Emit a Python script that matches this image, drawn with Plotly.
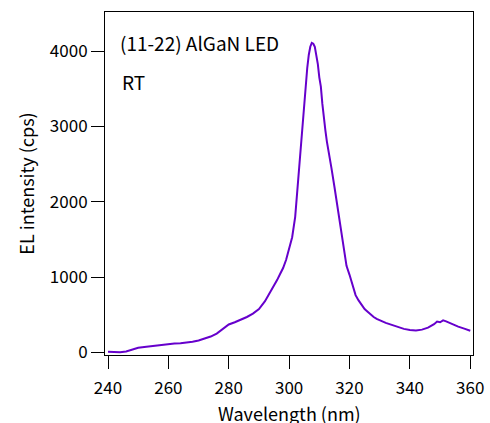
import plotly.graph_objects as go

# Wavelength (nm) and EL intensity (cps)
wavelength = [240, 242, 244, 246, 248, 250, 252, 254, 256, 258, 260, 262, 264, 266, 268,
              270, 272, 274, 276, 278, 280, 282, 284, 286, 288, 290, 292, 293, 294, 295,
              296, 297, 298, 299, 300, 301, 302, 303, 303.5, 304, 304.5, 305, 305.5, 306,
              306.5, 307, 307.5, 308, 308.5, 309, 309.5, 310, 310.5, 311, 311.5, 312, 312.5,
              313, 314, 315, 316, 317, 318, 319, 320, 321, 322, 323, 324, 325, 326, 327, 328,
              329, 330, 332, 334, 336, 338, 340, 342, 344, 346, 348, 349, 350, 351, 352, 353,
              354, 356, 358, 360]
intensity = [8, 4, 2, 12, 38, 60, 72, 82, 95, 102, 115, 118, 122, 128, 140,
             158, 180, 210, 250, 315, 370, 400, 430, 470, 515, 575, 680, 750, 820, 880,
             960, 1040, 1120, 1230, 1370, 1530, 1800, 2300, 2600, 2780, 3050, 3300, 3520, 3780,
             3950, 4060, 4110, 4100, 4060, 3950, 3830, 3650, 3530, 3300, 3100, 2950, 2800,
             2700, 2450, 2200, 1950, 1700, 1400, 1150, 1030, 900, 760, 690, 630, 575, 540, 500, 470,
             445, 425, 392, 365, 335, 312, 298, 292, 302, 328, 375, 410, 400, 425, 412, 392,
             372, 342, 315, 288]

x_ticks = [240, 260, 280, 300, 320, 340, 360]
y_ticks = [0, 1000, 2000, 3000, 4000]

FONT = "Noto Sans CJK JP, Noto Sans, sans-serif"

fig = go.Figure()
fig.add_trace(go.Scatter(x=wavelength, y=intensity, mode="lines",
                         line=dict(color="#6600cc", width=2), showlegend=False))

axis_common = dict(showline=True, mirror=True, linecolor="black", linewidth=1,
                   showgrid=False, zeroline=False, ticks="outside", ticklen=13,
                   tickwidth=1, tickcolor="black", automargin=False,
                   tickfont=dict(family=FONT, size=17, color="black"))

fig.update_xaxes(range=[239.0, 360.9], tickvals=x_ticks, ticklabelstandoff=5, **axis_common)
fig.update_yaxes(range=[-35, 4521], tickvals=y_ticks, **axis_common)

# axis titles
fig.add_annotation(x=0.50, y=-0.169, xref="paper", yref="paper", xanchor="center", yanchor="middle",
                   text="Wavelength (nm)", showarrow=False,
                   font=dict(family=FONT, size=18, color="black"))
fig.add_annotation(x=-0.217, y=0.5, xref="paper", yref="paper", xanchor="center", yanchor="middle",
                   text="EL intensity (cps)", showarrow=False, textangle=-90,
                   font=dict(family=FONT, size=18, color="black"))

fig.add_annotation(x=0.035, y=0.91, xref="paper", yref="paper", xanchor="left", yanchor="middle",
                   text="(11-22) AlGaN LED", showarrow=False,
                   font=dict(family=FONT, size=19, color="black"))
fig.add_annotation(x=0.04, y=0.796, xref="paper", yref="paper", xanchor="left", yanchor="middle",
                   text="RT", showarrow=False,
                   font=dict(family=FONT, size=19, color="black"))

fig.update_layout(width=490, height=423, margin=dict(l=105, r=17, t=12, b=68, autoexpand=False),
                  plot_bgcolor="white", paper_bgcolor="white",
                  font=dict(family=FONT, color="black"))

fig.write_html("out.html", config={"displayModeBar": False},
               post_script="document.body.style.margin='0';document.body.style.overflow='hidden';")
